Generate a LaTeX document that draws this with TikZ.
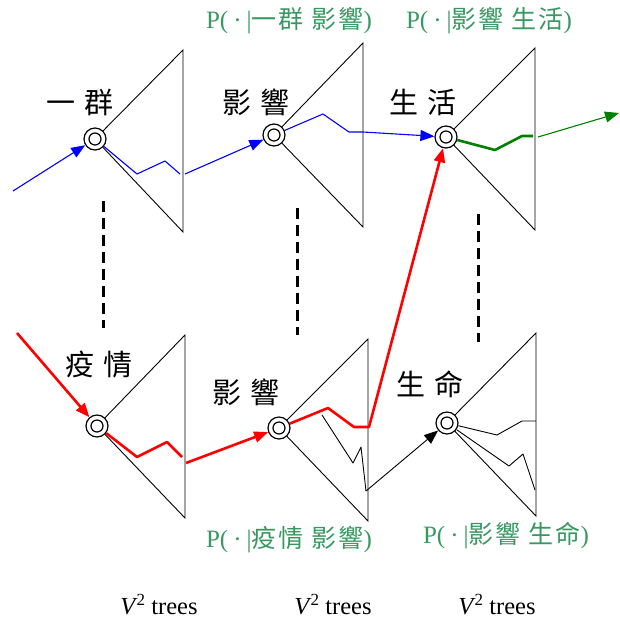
\documentclass[tikz,border=0pt]{standalone}
\usepackage{fontspec}
\setmainfont{Liberation Serif}
\newfontfamily\cjk{Noto Sans CJK TC}
\usetikzlibrary{arrows.meta}
\definecolor{lblgreen}{RGB}{55,152,98}
\definecolor{pathgreen}{RGB}{0,128,0}
\tikzset{
  wordnode/.style={circle, draw, line width=1.2pt, minimum size=22pt, inner sep=0pt, fill=white,
    path picture={\draw[line width=1.2pt] (path picture bounding box.center) circle (6pt);}},
  tri/.style={line width=0.9pt, line join=miter},
  tip/.style={-{Triangle[length=14pt,width=11pt]}},
  bluepath/.style={blue, line width=1.1pt, line join=round},
  redpath/.style={red, line width=2.6pt, line join=round},
  greenpath/.style={pathgreen, line width=2.6pt, line join=round},
  greenthin/.style={pathgreen, line width=1.1pt},
  blackpath/.style={black, line width=0.9pt, line join=round},
  sep/.style={line width=3pt, dash pattern=on 11pt off 6pt},
  word/.style={font=\fontsize{29}{31}\selectfont\cjk, inner sep=0pt},
  prob/.style={font=\fontsize{25}{27}\selectfont, text=lblgreen, inner sep=0pt},
  captext/.style={font=\fontsize{24.5}{26}\selectfont, inner sep=0pt}
}
\newcommand{\probtext}[4]{P(\hspace{5pt}·\hspace{5pt}|{\cjk #1\hspace{2pt}#2}\hspace{8pt}{\cjk #3\hspace{2pt}#4})}
\newcommand{\vtrees}{\textit{V}\kern-1pt\raisebox{9pt}{\fontsize{17}{18}\selectfont 2}\ trees}
\begin{document}
\begin{tikzpicture}[x=1pt,y=-1pt]
\useasboundingbox (0,0) rectangle (620,619);
% word nodes
\node[wordnode] (c1) at (95,139) {};
\node[wordnode] (c2) at (274,135) {};
\node[wordnode] (c3) at (446,137) {};
\node[wordnode] (c4) at (97,426) {};
\node[wordnode] (c5) at (279,428) {};
\node[wordnode] (c6) at (447,423) {};
% triangle corners
\coordinate (t1a) at (183,50);  \coordinate (t1b) at (183,232);
\coordinate (t2a) at (363,43);  \coordinate (t2b) at (363,227);
\coordinate (t3a) at (535,48);  \coordinate (t3b) at (535,230);
\coordinate (t4a) at (185,335); \coordinate (t4b) at (185,518);
\coordinate (t5a) at (368,339); \coordinate (t5b) at (368,521);
\coordinate (t6a) at (536,333); \coordinate (t6b) at (536,516);
\draw[tri] (c1) -- (t1a) -- (t1b) -- (c1);
\draw[tri] (c2) -- (t2a) -- (t2b) -- (c2);
\draw[tri] (c3) -- (t3a) -- (t3b) -- (c3);
\draw[tri] (c4) -- (t4a) -- (t4b) -- (c4);
\draw[tri] (c5) -- (t5a) -- (t5b) -- (c5);
\draw[tri] (c6) -- (t6a) -- (t6b) -- (c6);
% free ends
\coordinate (bstart) at (13,191);
\coordinate (b1out) at (185,174);
\coordinate (rstart) at (17,333);
\coordinate (r4out) at (186,463);
\coordinate (g3out) at (538,137);
\coordinate (gend) at (619,113);
\coordinate (k5end) at (366,491);
% blue path
\draw[bluepath, tip] (bstart) -- (c1);
\draw[bluepath] (c1) -- (137,174) -- (165,161) -- (180,174);
\draw[bluepath, tip] (b1out) -- (c2);
\draw[bluepath, tip] (c2) -- (323,114) -- (349,132) -- (363,132) -- (c3);
% green path
\draw[greenpath] (c3) -- (495,150) -- (522,136) -- (533,136);
\draw[greenthin, tip] (g3out) -- (gend);
% red path
\draw[redpath, tip] (rstart) -- (c4);
\draw[redpath] (c4) -- (137,457) -- (167,442) -- (182,457);
\draw[redpath, tip] (r4out) -- (c5);
\draw[redpath, tip] (c5) -- (328,408) -- (354,427) -- (369,427) -- (c3);
% black paths
\draw[blackpath] (322,415) -- (353,463) -- (361,447) -- (k5end);
\draw[blackpath, tip] (k5end) -- (c6);
\draw[blackpath] (c6) -- (497,435) -- (522,421) -- (536,421);
\draw[blackpath] (c6) -- (509,466) -- (523,454) -- (535,490);
% dashed separators
\draw[sep] (103,201) -- (103,328);
\draw[sep] (297,208) -- (297,335);
\draw[sep] (478,214) -- (478,342);
% word labels
\node[word] (w1) at (80,102) {一\hspace{10pt}群};
\node[word] (w2) at (256,102) {影\hspace{10pt}響};
\node[word] (w3) at (423,102) {生\hspace{10pt}活};
\node[word] (w4) at (99,365) {疫\hspace{10pt}情};
\node[word] (w5) at (246,392) {影\hspace{10pt}響};
\node[word] (w6) at (430,384) {生\hspace{10pt}命};
% probability labels
\node[prob] (p1) at (289,21) {\probtext{一}{群}{影}{響}};
\node[prob] (p2) at (489,21) {\probtext{影}{響}{生}{活}};
\node[prob] (p3) at (289,540) {\probtext{疫}{情}{影}{響}};
\node[prob] (p4) at (506,536) {\probtext{影}{響}{生}{命}};
% captions
\node[captext] (v1) at (159,605) {\vtrees};
\node[captext] (v2) at (333,605) {\vtrees};
\node[captext] (v3) at (497,605) {\vtrees};
\end{tikzpicture}
\end{document}
